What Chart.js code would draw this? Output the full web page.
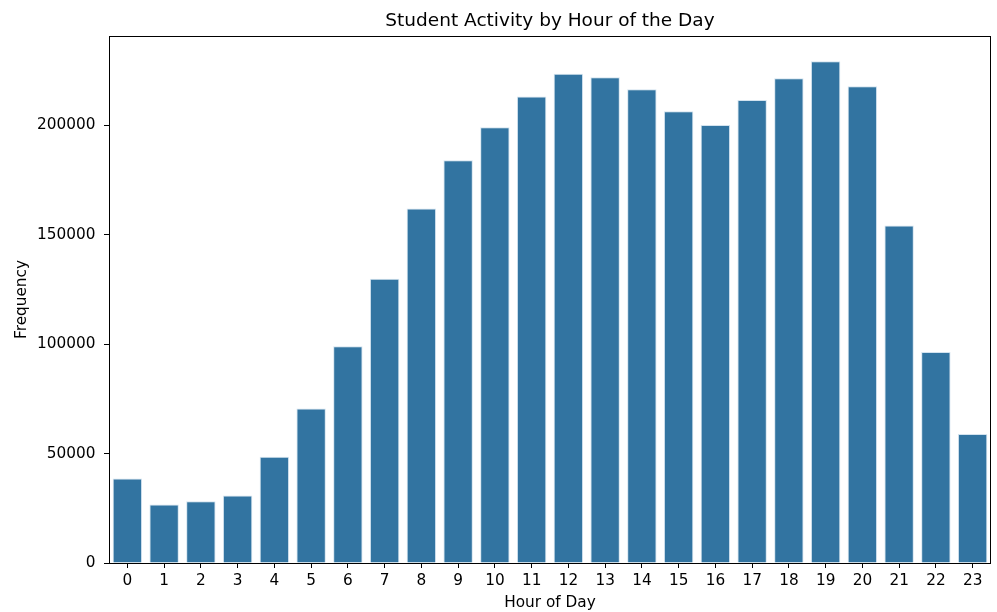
<!DOCTYPE html>
<html>
<head>
<meta charset="utf-8">
<script src="https://cdn.jsdelivr.net/npm/chart.js@4.4.1/dist/chart.umd.min.js"></script>
<style>
  html, body { margin: 0; padding: 0; background: #ffffff; }
  #wrap { width: 997px; height: 612px; }
</style>
</head>
<body>
<div id="wrap"><canvas id="c" width="997" height="612"></canvas></div>
<script>
const hours = ["0","1","2","3","4","5","6","7","8","9","10","11","12","13","14","15","16","17","18","19","20","21","22","23"];
const frequency = [38600, 26700, 28200, 30800, 48600, 70600, 99100, 129900, 162100, 184100, 199200, 213200, 223700, 222000, 216600, 206500, 200200, 211700, 221600, 229400, 217900, 154300, 96400, 59000];
const yTicks = [0, 50000, 100000, 150000, 200000];
const yMax = 240900;
const chartTitle = 'Student Activity by Hour of the Day';

const frame = {
  id: 'frame',
  afterDraw(chart) {
    const {ctx, chartArea: a} = chart;
    ctx.save();
    ctx.strokeStyle = '#000';
    ctx.lineWidth = 1;
    ctx.strokeRect(Math.round(a.left) + 0.5, Math.round(a.top) + 0.5, Math.round(a.right - a.left) - 1, Math.round(a.bottom - a.top));
    // title centred over the plot area (as matplotlib does)
    ctx.fillStyle = '#000';
    ctx.font = '18.5px "DejaVu Sans"';
    ctx.textAlign = 'center';
    ctx.textBaseline = 'alphabetic';
    ctx.fillText(chartTitle, (a.left + a.right) / 2, a.top - 9.6);
    ctx.restore();
  }
};

const font = { family: 'DejaVu Sans', size: 15.3 };

new Chart(document.getElementById('c'), {
  type: 'bar',
  data: {
    labels: hours,
    datasets: [{
      data: frequency,
      backgroundColor: 'rgb(50,116,161)',
      borderColor: 'rgba(200,220,235,0.8)',
      borderWidth: 1,
      categoryPercentage: 0.8,
      barPercentage: 1.0
    }]
  },
  options: {
    responsive: false,
    animation: false,
    layout: { padding: { left: 0, right: 6, top: 36, bottom: 0 } },
    plugins: {
      legend: { display: false },
      tooltip: { enabled: false },
      title: { display: false }
    },
    scales: {
      x: {
        offset: true,
        border: { display: false },
        grid: { display: true, drawOnChartArea: false, drawTicks: true, tickLength: 5, color: '#000', offset: false },
        ticks: { color: '#000', font: font, padding: 4, maxRotation: 0, autoSkip: false },
        title: { display: true, text: 'Hour of Day', color: '#000', font: font, padding: { top: 0, bottom: 0 } },
        afterFit(scale) { scale.height = 49; }
      },
      y: {
        min: 0,
        max: yMax,
        border: { display: false },
        grid: { display: true, drawOnChartArea: false, drawTicks: true, tickLength: 5, color: '#000' },
        ticks: { color: '#000', font: font, padding: 8.5, includeBounds: false, callback: v => String(v) },
        afterBuildTicks(scale) { scale.ticks = yTicks.map(v => ({ value: v })); },
        title: { display: true, text: 'Frequency', color: '#000', font: font, padding: { top: 13.3, bottom: 0 } },
        afterFit(scale) { scale.width = 109; }
      }
    }
  },
  plugins: [frame]
});
</script>
</body>
</html>
